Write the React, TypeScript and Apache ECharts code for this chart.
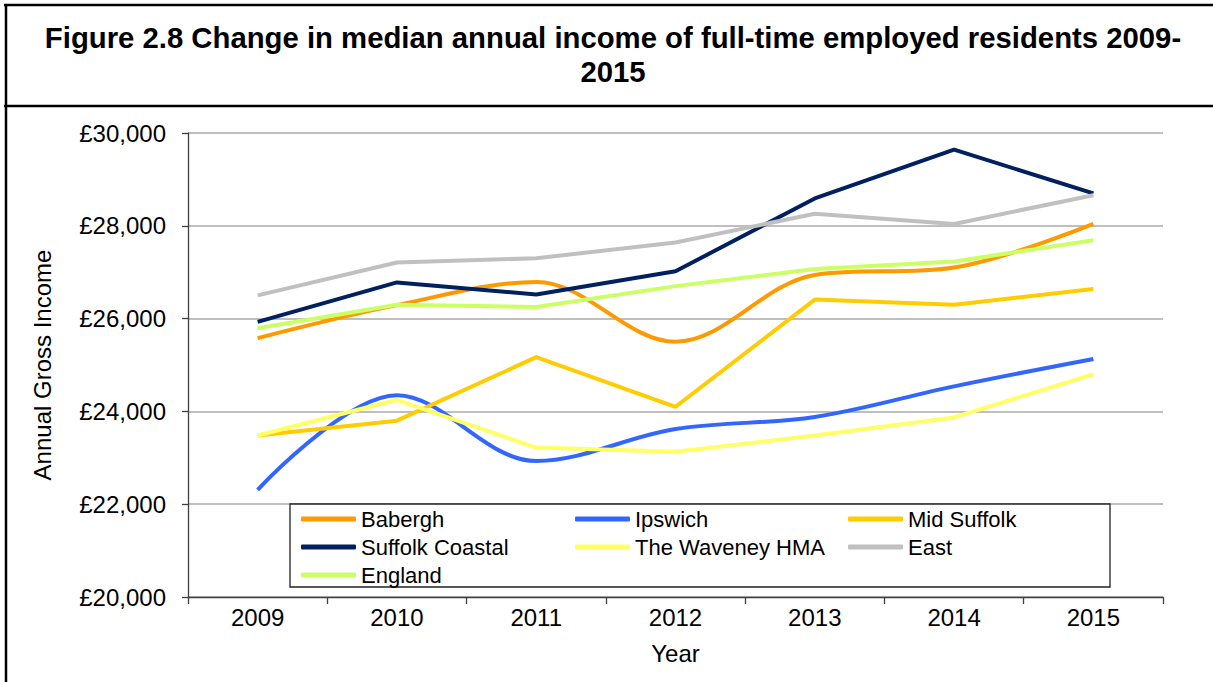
import React, { useEffect, useRef } from "react";
import * as echarts from "echarts";

const years = ["2009", "2010", "2011", "2012", "2013", "2014", "2015"];
const babergh = [25580, 26290, 26790, 25500, 26940, 27100, 28040];
const ipswich = [22310, 24350, 22930, 23620, 23880, 24540, 25130];
const midSuffolk = [23480, 23800, 25170, 24100, 26410, 26300, 26640];
const suffolkCoastal = [25930, 26780, 26520, 27020, 28590, 29640, 28700];
const waveney = [23480, 24250, 23220, 23130, 23480, 23870, 24800];
const east = [26500, 27210, 27300, 27640, 28260, 28040, 28660];
const england = [25790, 26300, 26250, 26700, 27070, 27230, 27690];

const seriesDefs = [
  { name: "Babergh", data: babergh, color: "#FF9900", smooth: true },
  { name: "Ipswich", data: ipswich, color: "#3366FF", smooth: true },
  { name: "Mid Suffolk", data: midSuffolk, color: "#FFCC00", smooth: false },
  { name: "Suffolk Coastal", data: suffolkCoastal, color: "#002060", smooth: false },
  { name: "The Waveney HMA", data: waveney, color: "#FFFF66", smooth: false },
  { name: "East", data: east, color: "#C0C0C0", smooth: false },
  { name: "England", data: england, color: "#CCFF66", smooth: false },
];

const legendColumns = [
  ["Babergh", "Suffolk Coastal", "England"],
  ["Ipswich", "The Waveney HMA"],
  ["Mid Suffolk", "East"],
];
const legendLefts = [301, 575, 848];

const FONT = "'Liberation Sans', Arial, sans-serif";

export default function App() {
  const ref = useRef<HTMLDivElement>(null);
  useEffect(() => {
    document.body.style.margin = "0";
    const chart = echarts.init(ref.current!, null, { renderer: "svg" });
    chart.setOption({
      animation: false,
      backgroundColor: "#fff",
      textStyle: { fontFamily: FONT },
      grid: { left: 188, right: 50, top: 133, bottom: 85 },
      xAxis: {
        type: "category",
        data: years,
        boundaryGap: true,
        name: "Year",
        nameLocation: "middle",
        nameGap: 44,
        nameTextStyle: { fontSize: 24, color: "#000", fontFamily: FONT },
        axisLine: { lineStyle: { color: "#404040", width: 1.3 } },
        axisTick: { show: true, length: 7, lineStyle: { color: "#404040", width: 1.3 } },
        axisLabel: { fontSize: 24, color: "#000", margin: 8, fontFamily: FONT },
      },
      yAxis: {
        type: "value",
        min: 20000,
        max: 30000,
        interval: 2000,
        name: "Annual Gross Income",
        nameLocation: "middle",
        nameGap: 134,
        nameRotate: 90,
        nameTextStyle: { fontSize: 24, color: "#000", fontFamily: FONT },
        axisLine: { show: true, lineStyle: { color: "#404040", width: 1.3 } },
        axisTick: { show: true, length: 6, lineStyle: { color: "#404040", width: 1.3 } },
        axisLabel: {
          fontSize: 24,
          color: "#000",
          margin: 22,
          fontFamily: FONT,
          formatter: (v: number) => "£" + v.toLocaleString("en-GB"),
        },
        splitLine: { show: true, lineStyle: { color: "#BFBFBF", width: 2 } },
      },
      legend: legendColumns.map((col, i) => ({
        data: col,
        orient: "vertical",
        left: legendLefts[i],
        top: 508,
        padding: 0,
        itemGap: 6,
        itemWidth: 55,
        itemHeight: 5,
        icon: "roundRect",
        z: 10,
        textStyle: { fontSize: 22, color: "#000", lineHeight: 22, fontFamily: FONT },
      })),
      graphic: [
        {
          type: "line",
          shape: { x1: 4, y1: 5, x2: 1213, y2: 5 },
          style: { stroke: "#000", lineWidth: 2.5 },
        },
        {
          type: "line",
          shape: { x1: 6, y1: 4, x2: 6, y2: 682 },
          style: { stroke: "#000", lineWidth: 2.5 },
        },
        {
          type: "line",
          shape: { x1: 4, y1: 106, x2: 1213, y2: 106 },
          style: { stroke: "#000", lineWidth: 2.5 },
        },
        {
          type: "text",
          x: 613,
          y: 21,
          style: {
            text: "Figure 2.8 Change in median annual income of full-time employed residents 2009-\n2015",
            fontSize: 29.3,
            fontWeight: "bold",
            fontFamily: FONT,
            fill: "#000",
            align: "center",
            lineHeight: 33.5,
          },
        },
        {
          type: "rect",
          z: 5,
          shape: { x: 290, y: 504, width: 820, height: 83 },
          style: { fill: "#fff", stroke: "#222", lineWidth: 1.3 },
        },
      ],
      series: seriesDefs.map((s) => ({
        name: s.name,
        type: "line",
        data: s.data,
        smooth: s.smooth ? 0.35 : false,
        symbol: "none",
        color: s.color,
        lineStyle: { color: s.color, width: 4 },
        z: 2,
      })),
    });
    return () => chart.dispose();
  }, []);
  return <div ref={ref} style={{ width: 1213, height: 682 }} />;
}
